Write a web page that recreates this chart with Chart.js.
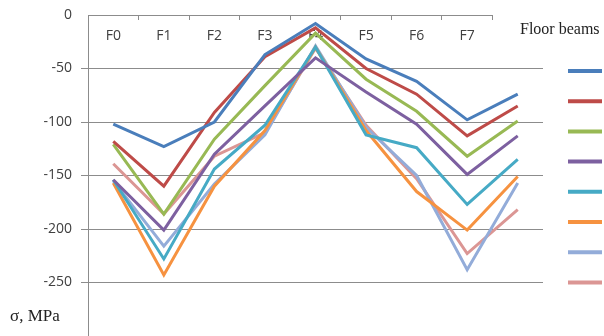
<!DOCTYPE html>
<html>
<head>
<meta charset="utf-8">
<script src="https://cdn.jsdelivr.net/npm/chart.js@4.4.1/dist/chart.umd.min.js"></script>
<style>
  html, body { margin: 0; padding: 0; background: #fff; overflow: hidden; }
  #wrap { width: 604px; height: 336px; position: relative; }
</style>
</head>
<body>
<div id="wrap"><canvas id="c" width="604" height="336"></canvas></div>
<script>
// Floor positions along each beam (last position has no label)
const floors = ['F0', 'F1', 'F2', 'F3', 'F4', 'F5', 'F6', 'F7', ''];

// Stress in MPa for the eight floor beams
const beam1 = [-102, -123, -100, -37, -8, -41, -62, -98, -74];
const beam2 = [-118, -160, -91, -39, -12, -50, -74, -113, -85];
const beam3 = [-121, -186, -116, -66, -17, -60, -90, -132, -99];
const beam4 = [-154, -201, -130, -85, -40, -72, -102, -149, -113];
const beam5 = [-154, -228, -144, -103, -30, -112, -124, -177, -135];
const beam6 = [-157, -243, -160, -108, -30, -108, -165, -201, -151];
const beam7 = [-155, -216, -158, -112, -29, -105, -150, -238, -157];
const beam8 = [-139, -186, -132, -110, -31, -103, -153, -223, -182];

const yTicks = [0, -50, -100, -150, -200, -250];

const colors = ['#4A7EBB', '#BE4B48', '#98B954', '#7D60A0', '#46AAC5', '#F69240', '#93ACD9', '#DB9694'];
const series = [beam1, beam2, beam3, beam4, beam5, beam6, beam7, beam8];

const axisGray = '#8C8C8C';
const textColor = '#404040';

// Draws the top category line, the legend swatches with their title, and the unit label
const decorations = {
  id: 'decorations',
  afterDraw(chart) {
    const { ctx, chartArea, scales } = chart;
    const x = scales.x;
    const step = x.getPixelForValue(1) - x.getPixelForValue(0);
    const lastBoundary = x.getPixelForValue(floors.length - 1) - step / 2;
    ctx.save();
    ctx.strokeStyle = axisGray;
    ctx.lineWidth = 1;
    ctx.beginPath();
    ctx.moveTo(chartArea.left, chartArea.top + 0.5);
    ctx.lineTo(lastBoundary, chartArea.top + 0.5);
    ctx.stroke();

    ctx.fillStyle = '#222';
    ctx.font = '16px "Liberation Serif"';
    ctx.textBaseline = 'alphabetic';
    ctx.textAlign = 'left';
    ctx.fillText('Floor beams', 520, 34);

    chart.data.datasets.forEach((ds, i) => {
      const yy = 71 + i * 30.2;
      ctx.strokeStyle = ds.borderColor;
      ctx.lineWidth = 4;
      ctx.lineCap = 'butt';
      ctx.beginPath();
      ctx.moveTo(568, yy);
      ctx.lineTo(602, yy);
      ctx.stroke();
    });

    ctx.fillStyle = '#222';
    ctx.font = '17px "Liberation Serif"';
    ctx.fillText('σ, MPa', 10, 321);
    ctx.restore();
  }
};

new Chart(document.getElementById('c'), {
  type: 'line',
  data: {
    labels: floors,
    datasets: series.map((vals, i) => ({
      label: 'Beam ' + (i + 1),
      data: vals,
      borderColor: colors[i],
      backgroundColor: colors[i],
      borderWidth: 3,
      pointRadius: 0,
      tension: 0,
      fill: false
    }))
  },
  options: {
    responsive: false,
    animation: false,
    layout: { padding: { left: 0, right: 61, top: 0, bottom: 0 } },
    plugins: {
      legend: { display: false },
      tooltip: { enabled: false }
    },
    scales: {
      x: {
        type: 'category',
        position: 'top',
        offset: true,
        afterFit(scale) {
          scale.height = 15;
          scale.paddingLeft = 0;
          scale.paddingRight = 0;
        },
        border: { display: false },
        grid: {
          offset: true,
          drawOnChartArea: false,
          drawTicks: true,
          tickLength: -5,
          color: (c) => (c.type === 'tick' ? axisGray : 'rgba(0,0,0,0)')
        },
        ticks: {
          mirror: true,
          padding: 13,
          color: textColor,
          font: { family: 'Open Sans', size: 14 },
          maxRotation: 0,
          autoSkip: false
        }
      },
      y: {
        min: -300,
        max: 0,
        afterFit(scale) {
          scale.width = 88;
          scale.paddingTop = 0;
          scale.paddingBottom = 0;
        },
        afterBuildTicks(scale) {
          scale.ticks = yTicks.concat([-300]).map(v => ({ value: v }));
        },
        border: { display: true, color: axisGray, width: 1 },
        grid: {
          color: (c) => (c.tick && c.tick.value === 0 ? 'rgba(0,0,0,0)' : axisGray),
          lineWidth: 1,
          tickLength: 7,
          drawTicks: true
        },
        ticks: {
          padding: 9,
          color: textColor,
          font: { family: 'Open Sans', size: 14 },
          callback: (v) => (yTicks.includes(v) ? String(v) : '')
        }
      }
    }
  },
  plugins: [decorations]
});
</script>
</body>
</html>
